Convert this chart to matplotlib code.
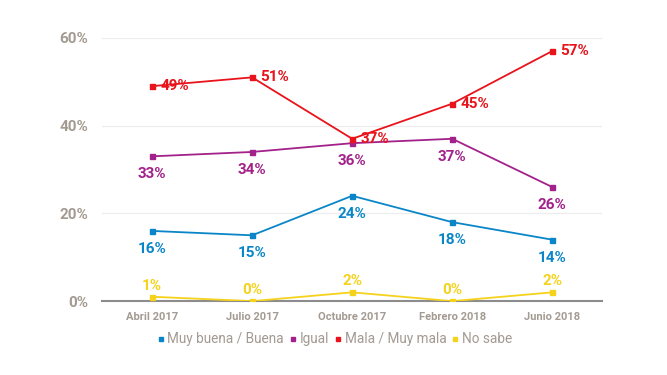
import matplotlib
matplotlib.use("Agg")
import matplotlib.pyplot as plt
from matplotlib.lines import Line2D

categories = ["Abril 2017", "Julio 2017", "Octubre 2017", "Febrero 2018", "Junio 2018"]
muy_buena = [16, 15, 24, 18, 14]
igual = [33, 34, 36, 37, 26]
mala = [49, 51, 37, 45, 57]
no_sabe = [1, 0, 2, 0, 2]
series_names = ["Muy buena / Buena", "Igual", "Mala / Muy mala", "No sabe"]
yticks = [0, 20, 40, 60]

colors = ["#0a86c8", "#a3218b", "#e8131b", "#f5d21c"]
gray = "#a39a92"

plt.rcParams['font.family'] = ['Roboto', 'DejaVu Sans']

fig = plt.figure(figsize=(6.67, 3.75), dpi=100)
ax = fig.add_axes([0.153, 0.197, 0.75, 0.702])
x = list(range(len(categories)))

data = [muy_buena, igual, mala, no_sabe]
# label placement: (dx points, dy points, ha, va)
place = [(0, -8, "center", "top"), (0, -8, "center", "top"),
         (6, 0, "left", "center"), (0, 3, "center", "bottom")]
for vals, c, (dx, dy, ha, va) in zip(data, colors, place):
    ax.plot(x, vals, color=c, lw=1.3, marker="s", ms=3.6, zorder=3)
    for xi, v in zip(x, vals):
        ax.annotate(f"{v}%", (xi, v), xytext=(dx, dy), textcoords="offset points",
                    ha=ha, va=va, color=c, fontsize=11, fontweight="bold", zorder=4)

ax.set_xlim(-0.5, 4.5)
ax.set_ylim(0, 60)
ax.set_yticks(yticks)
ax.set_yticklabels([f"{t}%" for t in yticks])
ax.set_xticks(x)
ax.set_xticklabels(categories)
for lab in ax.get_yticklabels():
    lab.set_fontsize(11)
    lab.set_fontweight("bold")
    lab.set_color(gray)
for lab in ax.get_xticklabels():
    lab.set_fontsize(8)
    lab.set_fontweight("bold")
    lab.set_color(gray)
ax.tick_params(axis="both", length=0)
ax.tick_params(axis="y", pad=10)
ax.tick_params(axis="x", pad=8)
ax.grid(axis="y", color="#ececec", lw=0.8, zorder=0)
for s in ["top", "right", "left"]:
    ax.spines[s].set_visible(False)
ax.spines["bottom"].set_color("#8c8c8c")
ax.spines["bottom"].set_linewidth(1.5)

handles = [Line2D([], [], color=c, marker="s", ls="none", ms=3) for c in colors]
leg = fig.legend(handles, series_names, loc="center", bbox_to_anchor=(0.503, 0.095),
                 ncol=4, frameon=False, handlelength=0.3, handletextpad=0.35,
                 columnspacing=0.5, fontsize=9.8)
for t in leg.get_texts():
    t.set_color(gray)

fig.savefig("out.png", dpi=100)
